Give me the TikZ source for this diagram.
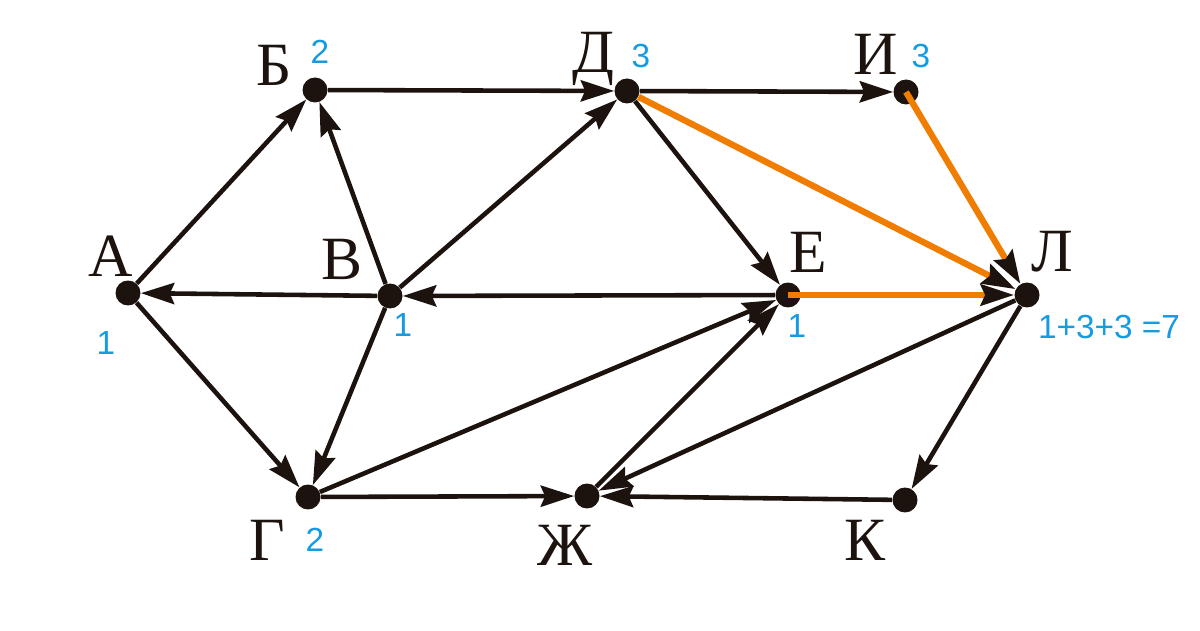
\documentclass[tikz,border=0pt]{standalone}
\usepackage{fontspec}
\setmainfont{Liberation Serif}
\newfontfamily\numfont{Liberation Sans}
\usetikzlibrary{arrows.meta}
\definecolor{ink}{RGB}{28,18,14}
\definecolor{numblue}{RGB}{20,155,225}
\definecolor{pathorange}{RGB}{240,125,0}
\begin{document}
\begin{tikzpicture}[x=0.02cm,y=-0.02cm,
 vertex/.style={circle,fill=ink,inner sep=0pt,minimum size=0.5cm},
 letter/.style={font=\fontsize{35}{35}\selectfont,text=ink,inner sep=0pt},
 num/.style={font=\numfont\fontsize{19}{19}\selectfont,text=numblue,inner sep=0pt},
 link/.style={draw=ink,line width=2.6pt,-{Stealth[length=19pt,width=12pt,inset=2.5pt]}},
 hot/.style={draw=pathorange,line width=3.6pt,-{Stealth[length=19pt,width=12pt,inset=2.5pt,color=ink]}}
]
\useasboundingbox (0,0) rectangle (1200,631);
% vertices
\node[vertex] (a) at (128,293) {};
\node[vertex] (b) at (315,90) {};
\node[vertex] (v) at (390,296) {};
\node[vertex] (g) at (308,497) {};
\node[vertex] (d) at (627,91) {};
\node[vertex] (e) at (788,295) {};
\node[vertex] (zh) at (587,496) {};
\node[vertex] (i) at (906,92) {};
\node[vertex] (l) at (1027,295) {};
\node[vertex] (k) at (905,500) {};
% letters
\node[letter] (la) at (111,256) {А};
\node[letter] (lb) at (274,65) {Б};
\node[letter] (lv) at (342,259) {В};
\node[letter] (lg) at (267,540) {Г};
\node[letter] (ld) at (593,59) {Д};
\node[letter] (le) at (808,252) {Е};
\node[letter] (lzh) at (565,545) {Ж};
\node[letter] (li) at (876,54) {И};
\node[letter] (lk) at (865,540) {К};
\node[letter] (ll) at (1052,252) {Л};
% numbers
\node[num] (na) at (106,343) {1};
\node[num] (nb) at (320,52) {2};
\node[num] (nv) at (403,325) {1};
\node[num] (ng) at (315,540) {2};
\node[num] (nd) at (641,56) {3};
\node[num] (ni) at (921,56) {3};
\node[num] (ne) at (797,326) {1};
\node[num] (nl) at (1109,327) {1+3+3 =7};
% black edges
\draw[link] (a) -- (b);
\draw[link] (a) -- (g);
\draw[link] (v) -- (a);
\draw[link] (v) -- (b);
\draw[link] (v) -- (d);
\draw[link] (v) -- (g);
\draw[link] (b) -- (d);
\draw[link] (d) -- (i);
\draw[link] (d) -- (e);
\draw[link] (e) -- (v);
\draw[link] (g) -- (e);
\draw[link] (g) -- (zh);
\draw[link] (zh) -- (e);
\draw[link] (l) -- (zh);
\draw[link] (l) -- (k);
\draw[link] (k) -- (zh);
% orange path
\draw[hot] (d) -- (l);
\draw[hot] (i.center) -- (l);
\draw[hot] (e.center) -- (l);
\end{tikzpicture}
\end{document}
